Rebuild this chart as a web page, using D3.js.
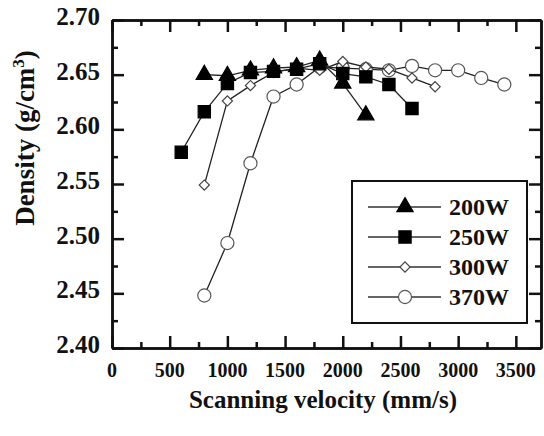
<!DOCTYPE html>
<html>
<head>
<meta charset="utf-8">
<script src="https://cdn.jsdelivr.net/npm/d3@7"></script>
<style>
  body { margin: 0; background: #fff; }
  text { font-family: "Liberation Serif", "Times New Roman", serif; font-weight: bold; fill: #111; }
</style>
</head>
<body>
<div id="chart"></div>
<script>
// Values.
var series_names = [ '200W', '250W', '300W', '370W' ];
var velocity_200 = [ 800, 1000, 1200, 1400, 1600, 1800, 2000, 2200 ];
var density_200  = [ 2.650, 2.649, 2.654, 2.656, 2.657, 2.663, 2.642, 2.613 ];
var velocity_250 = [ 600, 800, 1000, 1200, 1400, 1600, 1800, 2000, 2200, 2400, 2600 ];
var density_250  = [ 2.579, 2.616, 2.642, 2.652, 2.653, 2.655, 2.660, 2.651, 2.648, 2.641, 2.619 ];
var velocity_300 = [ 800, 1000, 1200, 1400, 1600, 1800, 2000, 2200, 2400, 2600, 2800 ];
var density_300  = [ 2.549, 2.626, 2.640, 2.652, 2.656, 2.654, 2.662, 2.657, 2.655, 2.647, 2.639 ];
var velocity_370 = [ 800, 1000, 1200, 1400, 1600, 1800, 2000, 2200, 2400, 2600, 2800, 3000, 3200, 3400 ];
var density_370  = [ 2.448, 2.496, 2.569, 2.630, 2.641, 2.657, 2.656, 2.655, 2.654, 2.658, 2.654, 2.654, 2.647, 2.641 ];

var x_ticks = [ 0, 500, 1000, 1500, 2000, 2500, 3000, 3500 ];
var y_ticks = [ 2.40, 2.45, 2.50, 2.55, 2.60, 2.65, 2.70 ];

var width = 544, height = 436;
var margin = { left: 112, right: 3, top: 20, bottom: 88 };

var svg = d3.select( '#chart' ).append( 'svg' )
  .attr( 'width', width )
  .attr( 'height', height );

var x_scale = d3.scaleLinear().domain( [0, 3718] ).range( [margin.left, width - margin.right] );
var y_scale = d3.scaleLinear().domain( [2.40, 2.70] ).range( [height - margin.bottom, margin.top] );

var x_minor = d3.range( 250, 3750, 500 );
var y_minor = d3.range( 2.425, 2.70, 0.05 );

// Inward ticks on all four sides.
function style_axis( g ){
  g.selectAll( 'path.domain' ).attr( 'stroke', '#111' ).attr( 'stroke-width', 2.5 );
  g.selectAll( '.tick line' ).attr( 'stroke', '#111' ).attr( 'stroke-width', 2.5 );
}

var y0 = y_scale.range()[0], y1 = y_scale.range()[1];
var x0 = x_scale.range()[0], x1 = x_scale.range()[1];

svg.append( 'g' ).attr( 'transform', 'translate(0,' + y0 + ')' )
  .call( d3.axisBottom( x_scale ).tickValues( x_ticks ).tickSize( -12 ).tickSizeOuter( 0 ).tickFormat( '' ) ).call( style_axis );
svg.append( 'g' ).attr( 'transform', 'translate(0,' + y0 + ')' )
  .call( d3.axisBottom( x_scale ).tickValues( x_minor ).tickSize( -6 ).tickSizeOuter( 0 ).tickFormat( '' ) ).call( style_axis );
svg.append( 'g' ).attr( 'transform', 'translate(0,' + y1 + ')' )
  .call( d3.axisTop( x_scale ).tickValues( x_ticks ).tickSize( -12 ).tickSizeOuter( 0 ).tickFormat( '' ) ).call( style_axis );
svg.append( 'g' ).attr( 'transform', 'translate(0,' + y1 + ')' )
  .call( d3.axisTop( x_scale ).tickValues( x_minor ).tickSize( -6 ).tickSizeOuter( 0 ).tickFormat( '' ) ).call( style_axis );
svg.append( 'g' ).attr( 'transform', 'translate(' + x0 + ',0)' )
  .call( d3.axisLeft( y_scale ).tickValues( y_ticks ).tickSize( -12 ).tickSizeOuter( 0 ).tickFormat( '' ) ).call( style_axis );
svg.append( 'g' ).attr( 'transform', 'translate(' + x0 + ',0)' )
  .call( d3.axisLeft( y_scale ).tickValues( y_minor ).tickSize( -6 ).tickSizeOuter( 0 ).tickFormat( '' ) ).call( style_axis );
svg.append( 'g' ).attr( 'transform', 'translate(' + x1 + ',0)' )
  .call( d3.axisRight( y_scale ).tickValues( y_ticks ).tickSize( -12 ).tickSizeOuter( 0 ).tickFormat( '' ) ).call( style_axis );
svg.append( 'g' ).attr( 'transform', 'translate(' + x1 + ',0)' )
  .call( d3.axisRight( y_scale ).tickValues( y_minor ).tickSize( -6 ).tickSizeOuter( 0 ).tickFormat( '' ) ).call( style_axis );

// Tick labels.
svg.append( 'g' ).selectAll( 'text' )
  .data( x_ticks ).enter().append( 'text' )
    .attr( 'x', function( d ){ return x_scale( d ) } )
    .attr( 'y', y0 + 29 )
    .attr( 'text-anchor', 'middle' )
    .style( 'font-size', '20px' )
    .text( function( d ){ return d } );
svg.append( 'g' ).selectAll( 'text' )
  .data( y_ticks ).enter().append( 'text' )
    .attr( 'x', x0 - 12 )
    .attr( 'y', function( d ){ return y_scale( d ) + 5 } )
    .attr( 'text-anchor', 'end' )
    .style( 'font-size', '25px' )
    .text( function( d ){ return d.toFixed( 2 ) } );

// Axis titles.
svg.append( 'text' )
  .attr( 'x', 323 ).attr( 'y', 408 )
  .attr( 'text-anchor', 'middle' )
  .style( 'font-size', '25px' )
  .text( 'Scanning velocity (mm/s)' );
var y_title = svg.append( 'text' )
  .attr( 'transform', 'translate(34,138) rotate(-90)' )
  .attr( 'text-anchor', 'middle' )
  .style( 'font-size', '27px' );
y_title.append( 'tspan' ).text( 'Density (g/cm' );
y_title.append( 'tspan' ).attr( 'dy', -10 ).style( 'font-size', '17px' ).text( '3' );
y_title.append( 'tspan' ).attr( 'dy', 10 ).text( ')' );

// Series. The diamond is a square turned by 45 degrees.
var series = [
  { name: series_names[0], v: velocity_200, d: density_200, symbol: d3.symbolTriangle, size: 115, rot: 0, fill: '#000', stroke: '#000' },
  { name: series_names[1], v: velocity_250, d: density_250, symbol: d3.symbolSquare, size: 150, rot: 0, fill: '#000', stroke: '#000' },
  { name: series_names[2], v: velocity_300, d: density_300, symbol: d3.symbolSquare, size: 52, rot: 45, fill: '#fff', stroke: '#444' },
  { name: series_names[3], v: velocity_370, d: density_370, symbol: d3.symbolCircle, size: 135, rot: 0, fill: '#fff', stroke: '#555' }
];

var line = d3.line()
  .x( function( p ){ return x_scale( p[0] ) } )
  .y( function( p ){ return y_scale( p[1] ) } );

// Draw in reverse order so 200W sits on top.
series.slice().reverse().forEach( function( s ){
  var pts = s.v.map( function( v, i ){ return [ v, s.d[i] ] } );
  svg.append( 'path' )
    .attr( 'd', line( pts ) )
    .attr( 'fill', 'none' )
    .attr( 'stroke', '#222' )
    .attr( 'stroke-width', 1.3 );
  svg.append( 'g' ).selectAll( 'path' )
    .data( pts ).enter().append( 'path' )
      .attr( 'transform', function( p ){ return 'translate(' + x_scale( p[0] ) + ',' + y_scale( p[1] ) + ') rotate(' + s.rot + ')' } )
      .attr( 'd', d3.symbol().type( s.symbol ).size( s.size ) )
      .attr( 'fill', s.fill )
      .attr( 'stroke', s.stroke )
      .attr( 'stroke-width', 1.2 );
} );

// Legend.
var legend = svg.append( 'g' ).attr( 'transform', 'translate(352,181)' );
legend.append( 'rect' )
  .attr( 'width', 175 ).attr( 'height', 142 )
  .attr( 'fill', '#fff' ).attr( 'stroke', '#111' ).attr( 'stroke-width', 2 );
series.forEach( function( s, i ){
  var ly = 26 + i * 30;
  legend.append( 'line' )
    .attr( 'x1', 16 ).attr( 'x2', 89 ).attr( 'y1', ly ).attr( 'y2', ly )
    .attr( 'stroke', '#333' ).attr( 'stroke-width', 1.3 );
  legend.append( 'path' )
    .attr( 'transform', 'translate(53,' + ly + ') rotate(' + s.rot + ')' )
    .attr( 'd', d3.symbol().type( s.symbol ).size( s.size ) )
    .attr( 'fill', s.fill ).attr( 'stroke', s.stroke ).attr( 'stroke-width', 1.2 );
  legend.append( 'text' )
    .attr( 'x', 97 ).attr( 'y', ly + 8 )
    .style( 'font-size', '24px' )
    .text( s.name );
} );
</script>
</body>
</html>
